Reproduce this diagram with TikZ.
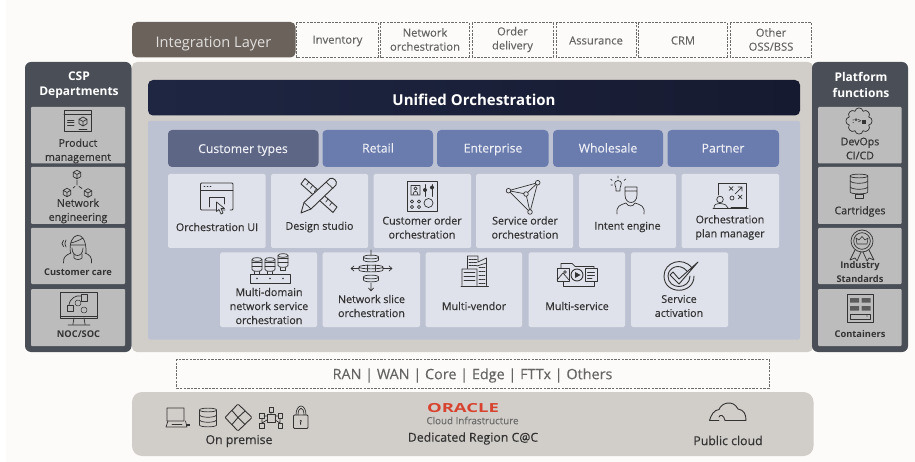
\documentclass[tikz,border=0pt]{standalone}
\usepackage{fontspec}
\setmainfont{Open Sans}
\newfontfamily\medfont[FakeBold=0.4]{Open Sans}
\newfontfamily\litefont[FakeBold=0.12]{Open Sans}
\usetikzlibrary{calc}
\definecolor{pagebg}{HTML}{FCFBF9}
\definecolor{intbox}{HTML}{6B625B}
\definecolor{stone}{HTML}{D1CDC9}
\definecolor{slate}{HTML}{4A4F57}
\definecolor{sidecard}{HTML}{BCBCBC}
\definecolor{panel}{HTML}{BDC2D3}
\definecolor{cardc}{HTML}{DFE2EA}
\definecolor{tabdark}{HTML}{5E6685}
\definecolor{tabblue}{HTML}{6A7BAE}
\definecolor{inkc}{HTML}{333333}
\definecolor{dashc}{HTML}{6C6C6C}
\definecolor{dashtext}{HTML}{656565}
\definecolor{orared}{HTML}{D8432F}
\definecolor{navyL}{HTML}{1E2642}
\definecolor{navyR}{HTML}{161A30}
\tikzset{
  x=1pt,y=-1pt,
  dashbox/.style={draw=dashc,line width=0.9pt,dash pattern=on 2.4pt off 1.2pt,fill=pagebg},
  dashtxt/.style={text=dashtext,align=center,font=\litefont\fontsize{11.2}{14}\selectfont},
  tabtxt/.style={anchor=base,text=white!88!tabblue,font=\litefont\fontsize{12.2}{14}\selectfont},
  cardtxt/.style={text=inkc,align=center,font=\medfont\fontsize{10.7}{14}\selectfont},
  sidetxt/.style={text=inkc,align=center,font=\medfont\fontsize{10.6}{14}\selectfont},
  sidesmall/.style={text=inkc,align=center,font=\bfseries\fontsize{9.3}{13.8}\selectfont},
  headtxt/.style={text=white,align=center,font=\bfseries\fontsize{12}{15.5}\selectfont},
  ico/.style={draw=inkc,line width=0.7pt,line join=round,line cap=round},
  cardbg/.style={fill=cardc,rounded corners=1.5pt},
  sidebg/.style={fill=sidecard,rounded corners=1pt},
}
\newcommand{\cylinder}[4]{% cx, top, bottom, rx
  \draw[ico,fill=none] (#1-#4,#2) .. controls (#1-#4,#2-2.5) and (#1+#4,#2-2.5) .. (#1+#4,#2) -- (#1+#4,#3) .. controls (#1+#4,#3+2.5) and (#1-#4,#3+2.5) .. (#1-#4,#3) -- cycle;
  \draw[ico] (#1-#4,#2) .. controls (#1-#4,#2+2.5) and (#1+#4,#2+2.5) .. (#1+#4,#2);
}
\newcommand{\cubeico}[3]{% cx cy r
  \draw[ico] (#1,#2-#3) -- (#1+#3*0.87,#2-#3*0.5) -- (#1+#3*0.87,#2+#3*0.5) -- (#1,#2+#3) -- (#1-#3*0.87,#2+#3*0.5) -- (#1-#3*0.87,#2-#3*0.5) -- cycle
   (#1-#3*0.87,#2-#3*0.5) -- (#1,#2) -- (#1+#3*0.87,#2-#3*0.5) (#1,#2) -- (#1,#2+#3);
}
\begin{document}
\begin{tikzpicture}
\useasboundingbox (0,0) rectangle (915,462);
\fill[pagebg] (0,0) rectangle (915,462);
\fill[white] (0,0) rectangle (6,462);

% top row
\fill[intbox,rounded corners=5pt] (132,22) rectangle (295.5,57.5);
\node[text=white!80!intbox,font=\fontsize{14.6}{16}\selectfont] (integ) at (213.5,43.5) {Integration Layer};
\draw[dashbox] (296.5,22.5) rectangle (378,57);
\draw[dashbox] (380.5,22.5) rectangle (469,57);
\draw[dashbox] (472,22.5) rectangle (553,57);
\draw[dashbox] (556,22.5) rectangle (636,57);
\draw[dashbox] (638.5,22.5) rectangle (727,57);
\draw[dashbox] (730,22.5) rectangle (811.5,57);
\node[dashtxt] (t1) at (337.5,41) {Inventory};
\node[dashtxt] (t2) at (425,39.5) {Network\\orchestration};
\node[dashtxt] (t3) at (512.5,39.5) {Order\\delivery};
\node[dashtxt] (t4) at (596,40.5) {Assurance};
\node[dashtxt] (t5) at (683,40.5) {CRM};
\node[dashtxt] (t6) at (771,39.5) {Other\\OSS/BSS};

% main body
\fill[stone,rounded corners=5pt] (132,62) rectangle (813,352);
\fill[slate,rounded corners=6pt] (25,62) rectangle (131.5,352);
\fill[slate,rounded corners=6pt] (812,62) rectangle (908,352);
\node[headtxt] (csp) at (79,85) {CSP\\Departments};
\node[headtxt] (plat) at (861,85) {Platform\\functions};
\foreach \a/\b in {107/163.5,167/224,228/284,289/346}{
  \fill[sidebg] (31,\a) rectangle (125,\b);
  \fill[sidebg] (818,\a) rectangle (901.5,\b);
}
\shade[left color=navyL,right color=navyR,rounded corners=5pt] (148,80) rectangle (800,115.5);
\node[text=white,font=\bfseries\fontsize{15}{17}\selectfont] (uni) at (474,100) {Unified Orchestration};
\fill[panel,rounded corners=1.5pt] (148,121) rectangle (800,339.5);

% tabs
\fill[tabdark,rounded corners=4pt] (168,130) rectangle (318.5,167);
\foreach \a/\b in {322.5/433,437/548.5,553/663,667.5/779}{\fill[tabblue,rounded corners=4pt] (\a,130) rectangle (\b,167);}
\node[tabtxt] (ct) at (243,153) {Customer types};
\node[tabtxt] (retail) at (378,152.5) {Retail};
\node[tabtxt] (ent) at (493,152.5) {Enterprise};
\node[tabtxt] (whole) at (608,152.5) {Wholesale};
\node[tabtxt] (part) at (723,152.5) {Partner};

% cards
\foreach \a/\b in {168/265.5,271/368,373.5/471,476/573,579/676,681.5/779}{\fill[cardbg] (\a,174) rectangle (\b,248);}
\foreach \a/\b in {220/317,322.5/420,425.5/522,528.5/625,631/728}{\fill[cardbg] (\a,252.5) rectangle (\b,327);}
\node[cardtxt] (c1) at (217,227) {Orchestration UI};
\node[cardtxt] (c2) at (319.5,227) {Design studio};
\node[cardtxt] (c3) at (422,227.5) {Customer order\\orchestration};
\node[cardtxt] (c4) at (525,227.5) {Service order\\orchestration};
\node[cardtxt] (c5) at (627.5,227) {Intent engine};
\node[cardtxt] (c6) at (730,227.5) {Orchestration\\plan manager};
\node[cardtxt] (d1) at (269,306) {Multi-domain\\network service\\orchestration};
\node[cardtxt] (d2) at (371.5,306) {Network slice\\orchestration};
\node[cardtxt] (d3) at (474,306) {Multi-vendor};
\node[cardtxt] (d4) at (577,306) {Multi-service};
\node[cardtxt] (d5) at (679,306) {Service\\activation};

% side labels
\node[sidetxt] (s1) at (78,151) {Product\\management};
\node[sidetxt] (s2) at (78,211) {Network\\engineering};
\node[sidesmall] (s3) at (78,272.5) {Customer care};
\node[sidesmall] (s4) at (78.5,334.5) {NOC/SOC};
\node[sidetxt] (p1) at (860,148.5) {DevOps\\CI/CD};
\node[sidetxt] (p2) at (860,211.5) {Cartridges};
\node[sidesmall] (p3) at (860,272) {Industry\\Standards};
\node[sidesmall] (p4) at (860,334.5) {Containers};

% RAN strip
\draw[dashbox] (176.5,359) rectangle (769,388);
\node[text=dashtext,font=\litefont\fontsize{14.4}{17}\selectfont] (ran) at (472.5,375.5) {RAN | WAN | Core | Edge | FTTx | Others};

% bottom
\fill[stone,rounded corners=10pt] (132,392) rectangle (813.5,456);
\node[text=inkc,font=\medfont\fontsize{12.3}{14}\selectfont] (onp) at (239,441) {On premise};
\node[text=inkc,font=\medfont\fontsize{12.3}{14}\selectfont] (ded) at (473,438.5) {Dedicated Region C@C};
\node[text=inkc,font=\medfont\fontsize{12.3}{14}\selectfont] (pub) at (728,440.5) {Public cloud};
\node[text=orared,font=\bfseries\fontsize{12.5}{13}\selectfont,xscale=1.48,yscale=1] (ora) at (463,408) {ORACLE};
\node[text=black!58,font=\litefont\fontsize{9.8}{11}\selectfont] (oci) at (472.5,420.5) {Cloud Infrastructure};

% ---- icons: side, left
\draw[ico] (64,110) rectangle (91.5,131.5) (64,114.5) -- (91.5,114.5);
\draw[ico] (67.5,120) -- (74,120) (67.5,122.5) -- (74,122.5) (67.5,125) -- (74,125);
\cubeico{83}{121.5}{4.5}
\draw[ico] (79,129) -- (87,129);
\cubeico{77}{174.5}{4.3}\cubeico{67}{192.5}{4.3}\cubeico{88}{193}{4.3}
\draw[ico] (77,180) -- (77,185) (73,188) -- (75,186.5) (79,186.5) -- (82,188.5);
% customer care
\draw[ico] (70.5,253) .. controls (67,232) and (87,227) .. (86,253) (72,248) .. controls (72,258) and (83,258) .. (83,248) (71,243) .. controls (75,242) and (80,240) .. (83,238) (71,245) -- (84.5,245);
\draw[ico] (63.5,263) .. controls (63,257) and (66,255) .. (71,253) (91.5,263) .. controls (92,257) and (90,255) .. (85,253) (74,254) -- (74,258) .. controls (76,260) and (80,260) .. (82,258) -- (82,254);
\draw[ico] (66,240) .. controls (64.5,242) and (64.5,245) .. (66,247) (63.5,240.5) .. controls (61.5,242) and (61.5,245) .. (63.5,246.5);
% noc
\draw[ico,line width=0.9pt] (60.5,292.5) rectangle (97.5,318);
\draw[ico,line width=1.3pt] (60.5,316.5) -- (97.5,316.5);
\draw[ico] (74,318) -- (73,324) (84,318) -- (85,324) (68,325) -- (90,325);
\draw[ico] (69,305) .. controls (70,298) and (76,295) .. (81,296);
\draw[ico,line width=0.5pt] (81,294.5) rectangle (87,301) (67.5,305) rectangle (73.5,311);
\draw[ico,line width=0.5pt] (78,303) circle (3) (84,310) circle (3);
% devops gear
\foreach \a in {0,45,...,315}{
  \draw[ico] ($(859,121)+(\a-22.5:10.6)$) .. controls ($(859,121)+(\a-13:14.5)$) and ($(859,121)+(\a+13:14.5)$) .. ($(859,121)+(\a+22.5:10.6)$);
}
\node[text=inkc,font=\bfseries\fontsize{6.5}{7}\selectfont,inner sep=0pt] (gearmark) at (859,121.5) {:*>\rule{4pt}{4pt}};
% cartridges
\cylinder{859}{176}{192}{8.8}
\draw[ico] (850.2,181) .. controls (852,184) and (866,184) .. (867.8,181) (850.2,187) .. controls (852,190) and (866,190) .. (867.8,187);
\draw[ico] (855,194) rectangle (863,198.5);
% medal
\draw[ico] (862,241) circle (11) (862,241) circle (8.3);
\draw[ico,line width=0.6pt] (857,244) -- (867,244) -- (868,238) -- (865,240) -- (862,236.5) -- (859,240) -- (856,238) -- cycle;
\draw[ico] (855,250) -- (850,260) -- (855,258) -- (857,261) -- (861,252) (869,250) -- (874,260) -- (869,258) -- (867,261) -- (863,252);
% containers
\draw[ico] (847,294.5) rectangle (873.5,322);
\foreach \yy in {298,306}{
  \fill[inkc!80] (850,\yy) rectangle (859,\yy+4.5) (861.5,\yy) rectangle (870.5,\yy+4.5);
}
\draw[ico] (850.5,314) rectangle (870,319);
\fill[inkc] (867,316) circle (0.6);

% ---- card icons, row 1
\draw[ico,line width=0.9pt,rounded corners=1pt] (225,210) -- (200.5,210) -- (200.5,183) -- (233,183) -- (233,210) -- (230,210);
\draw[ico] (200.5,190) -- (233,190);
\draw[ico] (204,186.5) -- (205,186.5) (207,186.5) -- (208,186.5) (210,186.5) -- (211,186.5);
\draw[ico] (209,207) -- (209,197.5) -- (224.5,197.5) -- (224.5,204);
\draw[ico,fill=cardc] (216.5,202) -- (216.5,211.5) -- (219,209.5) -- (221,214) -- (223,213) -- (221,208.5) -- (224.5,208.5) -- cycle;
% design studio: ruler then pencil
\draw[ico,line width=0.9pt] (301,184) -- (305,178.5) -- (337,207) -- (333,212.5) -- cycle;
\foreach \t in {0.12,0.24,0.36,0.6,0.72,0.84}{
  \draw[ico] ($(305,178.5)!\t!(337,207)$) -- ++(-2.2,3);
}
\draw[ico,line width=0.9pt,fill=cardc] (301,213) -- (304,202.5) -- (330,178.5) .. controls (333,177) and (338,181) .. (336,185) -- (311,209) -- cycle;
\draw[ico] (304,202.5) -- (311,209) (326,182) -- (333,188.5);
% customer order
\draw[ico,line width=0.9pt] (407.5,181.5) rectangle (437,211);
\draw[ico] (411,185.5) rectangle (420,195) (413,195) .. controls (413,190) and (418,190) .. (418,195);
\draw[ico] (415.5,188.5) circle (1.6);
\draw[ico] (425,184.5) -- (425,196.5) (432,184.5) -- (432,196.5);
\fill[inkc] (425,190) circle (2) (432,187.5) circle (2);
\draw[ico] (412,201.5) circle (1.6) (419,201.5) circle (1.6) (412,207) circle (1.6) (419,207) circle (1.6);
\draw[ico] (428.5,203) circle (4.5);
% service order
\draw[ico] (508.5,190.7) -- (537.7,182.7) -- (530,212) -- cycle (508.5,190.7) -- (526,194) -- (537.7,182.7) (526,194) -- (530,212);
\foreach \p in {(508.5,190.7),(537.7,182.7),(530,212),(526,194)}{\draw[ico,fill=cardc] \p circle (2.3);}
% intent engine
\begin{scope}[shift={(0,4)}]
\draw[ico] (615,181) .. controls (613,175) and (623,175) .. (621,181) .. controls (620,183) and (620,184) .. (620,187) -- (616,187) .. controls (616,184) and (616,183) .. (615,181) -- cycle;
\draw[ico] (618,172) -- (618,174) (610.5,175) -- (612,176.5) (625.5,175) -- (624,176.5) (611,181) -- (612.5,181);
\end{scope}
\draw[ico] (625,187) -- (637,187) (625,187) -- (625,195) .. controls (625,205) and (637,205) .. (637,195) -- (637,187) (625,191) -- (637,191);
\draw[ico] (617,214) .. controls (616,206) and (620,205) .. (626,203) (644,214) .. controls (645,206) and (641,205) .. (635,203) (626,203) .. controls (628,207) and (633,207) .. (635,203);
% plan manager
\draw[ico] (718.5,195) -- (718.5,183) -- (746,183) -- (746,207.5) -- (731,207.5);
\draw[ico,line width=1pt] (713,208.5) -- (748,208.5);
\draw[ico] (729,186.5) -- (733,190.5) (733,186.5) -- (729,190.5) (738,195) -- (742,199) (742,195) -- (738,199) (735,194) -- (742,187) (738,187) -- (742,187) -- (742,191);
\draw[ico] (732,198) circle (2);
\draw[ico] (720,199.5) circle (3.3) (714,208) .. controls (714,204) and (716,204) .. (720,203.5) .. controls (725,204) and (727,205) .. (728,208);

% ---- row 2 icons
\draw[ico] (250,283) -- (250,274.5) -- (290,274.5) -- (290,283) -- cycle;
\foreach \cx/\ct in {257/259.5,270/259.5,283/255.5}{
  \cylinder{\cx}{\ct}{\ct+10}{5}
  \draw[ico] (\cx-5,\ct+3.3) -- (\cx+5,\ct+3.3) (\cx-5,\ct+6.6) -- (\cx+5,\ct+6.6);
  \draw[ico] (\cx-2.5,\ct+12) -- (\cx-2.5,\ct+15) -- (\cx+2.5,\ct+15) -- (\cx+2.5,\ct+12);
}
\fill[inkc] (257,278.5) circle (0.9) (270,278.5) circle (0.9) (283,278.5) circle (0.9);
% slice
\cylinder{371}{257}{260}{7.5}
\cylinder{371}{277}{280}{7.5}
\cylinder{371}{267}{270}{12}
\draw[ico] (367,265) -- (367,271) (375,265) -- (375,271);
\draw[ico] (371,250) -- (371,256) (371,283) -- (371,291) (368.5,288) -- (371,291) -- (373.5,288);
\draw[ico] (359,268.5) -- (351,268.5) (354,266) -- (351,268.5) -- (354,271) (383,268.5) -- (392,268.5) (389,266) -- (392,268.5) -- (389,271);
% vendor
\draw[ico,line width=0.9pt] (461,286) -- (488.5,286);
\draw[ico] (462,285.5) -- (462,269 ) -- (477,269) -- (477,285.5) (467.5,269) -- (467.5,256) -- (478,256) -- (478,262) (478,262) -- (486.5,258) -- (486.5,285.5) (477,266) -- (486.5,263);
\foreach \yy in {272.5,276.5,280.5}{\draw[ico,line width=0.9pt] (464,\yy) -- (475,\yy);}
\foreach \yy in {259,262,265}{\draw[ico,line width=0.9pt,dash pattern=on 1.6pt off 1pt] (469,\yy) -- (477,\yy);}
\foreach \yy in {267,271,275,279,283}{\draw[ico,line width=0.9pt,dash pattern=on 1.6pt off 1pt] (479,\yy) -- (485,\yy);}
% service
\draw[ico] (561,268) -- (561,263.5) -- (572,263.5) -- (575,266.5) -- (594,266.5) -- (594,268.5);
\draw[ico] (563,282) -- (563,286) -- (594,286) -- (594,282);
\draw[ico,line width=0.9pt] (557,268.5) rectangle (569,281.5);
\draw[ico] (557,280) -- (563,273) -- (569,280);
\draw[ico] (565,272) circle (1.3);
\draw[ico,line width=0.9pt] (577,275) circle (6);
\fill[inkc] (575,272) -- (580.5,275) -- (575,278) -- cycle;
\draw[ico,line width=0.9pt] (585,268.5) rectangle (597,281.5);
\draw[ico] (587.5,272) -- (594.5,272) (587.5,275) -- (594.5,275) (587.5,278) -- (592,278);
% activation
\draw[ico,line width=0.9pt] (692,268) .. controls (683,256) and (664,262) .. (664,276) .. controls (664,295) and (694,295) .. (694,276);
\draw[ico,line width=0.9pt] (687,271) .. controls (679,262) and (668,268) .. (668,276) .. controls (668,290) and (690,290) .. (690,276);
\draw[ico,line width=0.9pt] (670,275) -- (679,284) -- (698,262) -- (679,279) -- (673,272) -- cycle;

% ---- bottom icons
\draw[ico] (167,408) rectangle (184,421) (168,421) -- (166,427) -- (187,427) -- (185.5,421);
\draw[ico] (172,424) -- (182,424);
\fill[inkc] (186,423.5) rectangle (190,426);
\cylinder{208}{410}{425}{8.5}
\draw[ico] (199.5,415) .. controls (201,418) and (215,418) .. (216.5,415) (199.5,420) .. controls (201,423) and (215,423) .. (216.5,420);
\draw[ico,line width=0.9pt,rounded corners=1pt] (238,404) -- (252,417.5) -- (238,431) -- (225,417.5) -- cycle;
\draw[ico,line width=0.9pt] (232,410.5) -- (238,417.5) -- (232,424.5) (238,417.5) -- (245,411) (238,417.5) -- (245,424.5);
\draw[ico] (269,407) rectangle (273,412) (259.5,413.5) rectangle (264,418.5) (278,413.5) rectangle (282,418.5) (259.5,423) rectangle (264,428) (278,423) rectangle (282,428) (267,414) rectangle (275,422);
\draw[ico] (271,412) -- (271,414) (264,416) -- (267,416) (275,416) -- (278,416) (262,418.5) -- (262,423) (280,418.5) -- (280,423) (267,420) -- (262,423) (275,420) -- (280,423);
\draw[ico] (296,415) .. controls (296,403) and (306,403) .. (306,415) (298,415) .. controls (298,406) and (304,406) .. (304,415);
\draw[ico,line width=0.9pt,rounded corners=1pt] (293.5,415) rectangle (308,428.5);
\fill[inkc] (300.7,421) circle (1.2) (300.2,421) rectangle (301.2,424.5);
\draw[ico,line width=0.9pt] (709.5,420.5) .. controls (711,415) and (714,410) .. (719,409.5) .. controls (721,403) and (733,399) .. (738,409) .. controls (744,410) and (746,414) .. (746,420.5) -- (725,420.5) .. controls (724,415) and (720,414) .. (719,417);
\draw[ico,line width=0.9pt] (709.5,420.5) -- (719,420.5);
\end{tikzpicture}
\end{document}
